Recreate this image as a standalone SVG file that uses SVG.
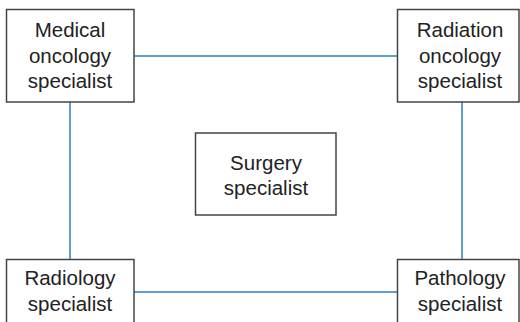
<svg xmlns="http://www.w3.org/2000/svg" width="520" height="322" viewBox="0 0 520 322">
<style>
.box{fill:#fff;stroke:#444;stroke-width:1.5}
.lbl{font-family:"Liberation Sans",Arial,Helvetica,sans-serif;font-size:20.5px;fill:#222;text-anchor:middle}
.conn{stroke:#2a7fc0;stroke-width:1.5;fill:none}
</style>
<rect width="520" height="322" fill="#fff"/>
<g id="connectors">
<line class="conn" x1="134" y1="56" x2="397" y2="56"/>
<line class="conn" x1="70" y1="102" x2="70" y2="259"/>
<line class="conn" x1="462" y1="102" x2="462" y2="259"/>
<line class="conn" x1="134" y1="292" x2="397" y2="292"/>
</g>
<g id="medical">
<rect class="box" x="6.5" y="9.5" width="127.5" height="92.5"/>
<text class="lbl" x="70" y="37">Medical</text>
<text class="lbl" x="70" y="62.5">oncology</text>
<text class="lbl" x="70" y="88">specialist</text>
</g>
<g id="radiation">
<rect class="box" x="397.5" y="9.5" width="121.5" height="92.5"/>
<text class="lbl" x="460" y="37">Radiation</text>
<text class="lbl" x="460" y="62.5">oncology</text>
<text class="lbl" x="460" y="88">specialist</text>
</g>
<g id="surgery">
<rect class="box" x="195.5" y="133" width="140.5" height="82"/>
<text class="lbl" x="266" y="169.5">Surgery</text>
<text class="lbl" x="266" y="194.5">specialist</text>
</g>
<g id="radiology">
<rect class="box" x="6.5" y="259.5" width="127.5" height="80"/>
<text class="lbl" x="70" y="285">Radiology</text>
<text class="lbl" x="70" y="311">specialist</text>
</g>
<g id="pathology">
<rect class="box" x="397.5" y="259.5" width="121.5" height="80"/>
<text class="lbl" x="460" y="285">Pathology</text>
<text class="lbl" x="460" y="311">specialist</text>
</g>
</svg>
